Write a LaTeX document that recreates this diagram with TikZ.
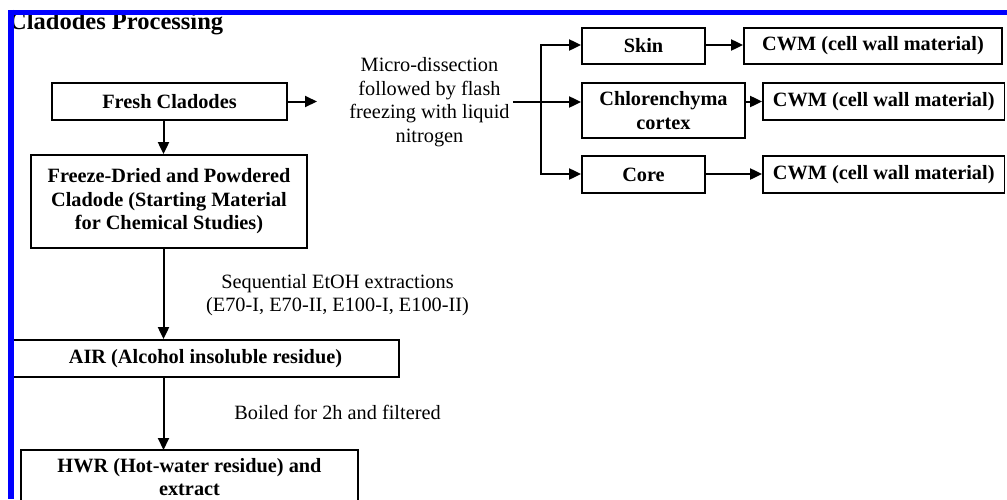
\documentclass[tikz,border=0pt]{standalone}
\usepackage{fontspec}
\setmainfont{Liberation Serif}
\usetikzlibrary{arrows.meta}
\begin{document}
\begin{tikzpicture}[x=1pt,y=-1pt,
  txt/.style={font=\fontsize{20.3}{23.5}\selectfont, align=center, inner sep=0pt},
  box/.style={draw, line width=1.8pt, font=\fontsize{20.3}{23.5}\selectfont\bfseries, align=center, inner sep=0pt},
  btxt/.style={font=\fontsize{20.3}{23.5}\selectfont\bfseries, align=center, inner sep=0pt},
  boxline/.style={line width=1.8pt},
  arr/.style={line width=2pt, -{Triangle[length=12pt,width=11pt]}},
  conn/.style={line width=2pt},
  frame/.style={draw=blue, line width=5.5pt}]
\useasboundingbox (0,0) rectangle (1007,499);
\clip (0,0) rectangle (1007,499);

\node[box, minimum width=235pt, minimum height=37pt] (fresh) at (169.5,101.5) {Fresh Cladodes};
\node[box, minimum width=276pt, minimum height=93pt] (freeze) at (169,201.5) {Freeze-Dried and Powdered\\Cladode (Starting Material\\for Chemical Studies)};
\node[box, minimum width=387pt, minimum height=37pt] (air) at (205.5,358.5) {AIR (Alcohol insoluble residue)};
\node[btxt] (hwr) at (189.5,477) {HWR (Hot-water residue) and\\extract};
\coordinate (hwrtop) at (163.5,450);
\draw[boxline] (21,500) |- (358,450) -- (358,500);

\node[box, minimum width=123pt, minimum height=36pt] (skin) at (643.5,46) {Skin};
\node[box, minimum width=258pt, minimum height=36pt] (cwma) at (873,46) {CWM (cell wall material)};
\node[box, minimum width=163pt, minimum height=55pt] (chlor) at (663.5,110.5) {Chlorenchyma\\cortex};
\node[box, minimum width=241.5pt, minimum height=37pt] (cwmb) at (883.75,101.5) {CWM (cell wall material)};
\node[box, minimum width=123pt, minimum height=37pt] (core) at (643.5,174.5) {Core};
\node[box, minimum width=241.5pt, minimum height=37pt] (cwmc) at (883.75,174.5) {CWM (cell wall material)};

\node[txt] (micro) at (429.5,102) {Micro-dissection\\followed by flash\\freezing with liquid\\nitrogen};
\node[txt] (seq) at (337.5,295) {Sequential EtOH extractions\\(E70-I, E70-II, E100-I, E100-II)};
\node[txt] (boil) at (337.5,412) {Boiled for 2h and filtered};

\node[font=\fontsize{24.5}{28}\selectfont\bfseries, inner sep=0pt, anchor=base west] (title) at (9,29.5) {Cladodes Processing};

\coordinate (vx) at (163.5,0);
\coordinate (fend) at (317,101.5);
\coordinate (mid) at (541,102);

\draw[arr] (fresh.east) -- (fend);
\draw[arr] (fresh.south -| vx) -- (freeze.north -| vx);
\draw[arr] (freeze.south -| vx) -- (air.north -| vx);
\draw[arr] (air.south -| vx) -- (hwrtop);

\draw[conn] ([xshift=3pt]micro.east |- mid) -- (mid);
\draw[arr] (mid) -- (mid -| chlor.west);
\draw[arr] (mid) |- ([yshift=1pt]skin.west);
\draw[arr] (mid) |- ([yshift=0.5pt]core.west);

\draw[arr] ([yshift=1pt]skin.east) -- ([yshift=1pt]cwma.west);
\draw[arr] (chlor.east |- cwmb.west) -- (cwmb.west);
\draw[arr] ([yshift=0.5pt]core.east) -- ([yshift=0.5pt]cwmc.west);

\draw[frame] (8,12.25) -- (1007,12.25);
\draw[frame] (10.8,9.5) -- (10.8,499);
\end{tikzpicture}
\end{document}
